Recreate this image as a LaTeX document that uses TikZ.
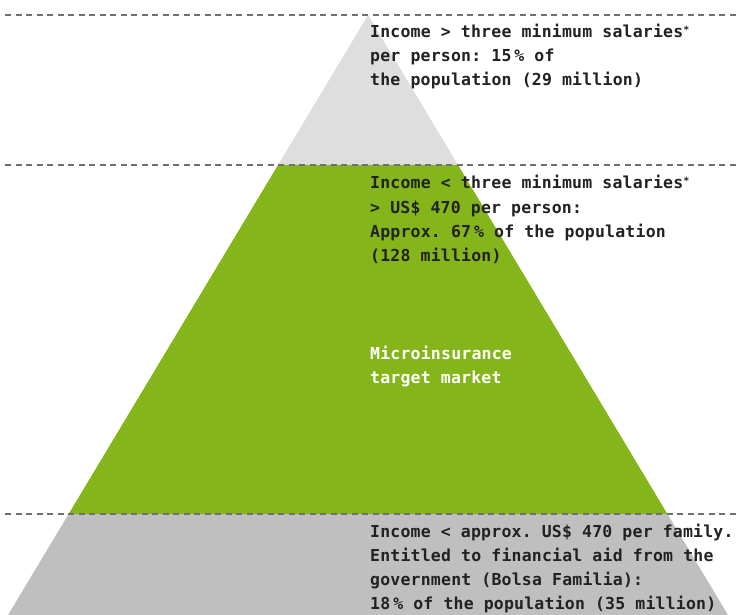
\documentclass[tikz,border=0pt]{standalone}
\usepackage{fontspec}
\setmonofont[LetterSpace=1.2]{DejaVu Sans Mono}
\definecolor{topgray}{HTML}{DEDEDE}
\definecolor{midgreen}{HTML}{84B51A}
\definecolor{botgray}{HTML}{BFBFBF}
\definecolor{txtdark}{HTML}{222222}
\definecolor{dashgray}{HTML}{707070}
\newcommand{\smallast}{{\fontsize{10}{10}\selectfont\raisebox{4pt}{*}}}
\newcommand{\thinsp}{\kern3pt}
\tikzset{
  lbl/.style={anchor=base west, inner sep=0pt, font=\ttfamily\bfseries\fontsize{16.5}{24}\selectfont, text=txtdark},
  wlbl/.style={lbl, text=white},
  guide/.style={draw=dashgray, line width=1.5pt, dash pattern=on 6pt off 4.5pt}
}
\begin{document}
\begin{tikzpicture}[x=1pt,y=-1pt]
\useasboundingbox (0,0) rectangle (739,615);
% tiers
\fill[topgray] (368,15) -- (458,165) -- (278,165) -- cycle;
\fill[midgreen] (278,165) -- (458,165) -- (667.4,514) -- (68.6,514) -- cycle;
\fill[botgray] (68.6,514) -- (667.4,514) -- (728,615) -- (8,615) -- cycle;
% guides
\coordinate (g1a) at (5,15);   \coordinate (g1b) at (739,15);
\coordinate (g2a) at (5,165);  \coordinate (g2b) at (739,165);
\coordinate (g3a) at (5,514);  \coordinate (g3b) at (739,514);
\draw[guide] (g1a) -- (g1b);
\draw[guide] (g2a) -- (g2b);
\draw[guide] (g3a) -- (g3b);
% texts
\node[lbl] (t1a) at (370,38) {Income > three minimum salaries\smallast};
\node[lbl] (t1b) at (370,62) {per person: 15\thinsp\% of};
\node[lbl] (t1c) at (370,86) {the population (29 million)};
\node[lbl] (t2a) at (370,189) {Income < three minimum salaries\smallast};
\node[lbl] (t2b) at (370,213) {> US\$ 470 per person:};
\node[lbl] (t2c) at (370,237) {Approx. 67\thinsp\% of the population};
\node[lbl] (t2d) at (370,261) {(128 million)};
\node[wlbl] (t3a) at (370,359) {Microinsurance};
\node[wlbl] (t3b) at (370,383) {target market};
\node[lbl] (t4a) at (370,537) {Income < approx. US\$ 470 per family.};
\node[lbl] (t4b) at (370,561) {Entitled to financial aid from the};
\node[lbl] (t4c) at (370,585) {government (Bolsa Familia):};
\node[lbl] (t4d) at (370,609) {18\thinsp\% of the population (35 million)};
\end{tikzpicture}
\end{document}
